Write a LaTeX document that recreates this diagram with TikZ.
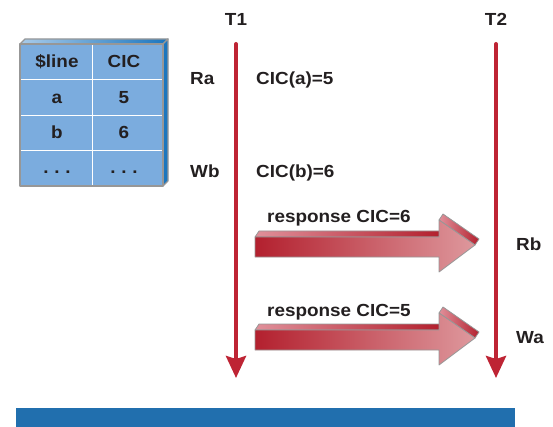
\documentclass[tikz,border=0pt]{standalone}
\usepackage{fontspec}
\setmainfont{Liberation Sans}[FakeStretch=1.08]
\usetikzlibrary{arrows.meta}
\definecolor{txt}{HTML}{231F20}
\definecolor{tl}{HTML}{BE2434}
\definecolor{darkred}{HTML}{B3202E}
\definecolor{lightred}{HTML}{DE989D}
\definecolor{topred}{HTML}{E0909A}
\definecolor{tblue}{HTML}{7BACDE}
\definecolor{sideblue}{HTML}{1C76BE}
\definecolor{topblue}{HTML}{A8CBEA}
\definecolor{barblue}{HTML}{216FAE}
\definecolor{edge}{HTML}{979797}
\begin{document}
\begin{tikzpicture}[x=1pt,y=-1pt,
  lab/.style={font=\bfseries\fontsize{17.5}{17.5}\selectfont, text=txt, inner sep=0pt, anchor=base west},
  labc/.style={lab, anchor=base},
  timeline/.style={draw=tl, line width=4pt, -{Stealth[length=22pt,width=20pt,inset=3pt]}},
  frontface/.style={left color=darkred, right color=lightred, draw=edge, line width=0.8pt, line join=round},
  topface/.style={left color=topred, right color=darkred, draw=edge, line width=0.8pt, line join=round},
  cellline/.style={draw=white, line width=1pt},
  tableedge/.style={draw=edge, line width=1.2pt, line join=round}
]
\useasboundingbox (0,0) rectangle (553,427);

% table (3D block)
\path[left color=topblue, right color=sideblue, tableedge] (20,44) -- (25,39) -- (168,39) -- (163,44) -- cycle;
\path[fill=sideblue, tableedge] (163,44) -- (168,39) -- (168,181) -- (163,186) -- cycle;
\fill[tblue] (20,44) rectangle (163,186);
\draw[cellline] (92,44) -- (92,186);
\draw[cellline] (20,80) -- (163,80);
\draw[cellline] (20,116) -- (163,116);
\draw[cellline] (20,151) -- (163,151);
\draw[tableedge] (20,44) rectangle (163,186);
\node[labc] (h1) at (57,68) {\$line};
\node[labc] (h2) at (124,68) {CIC};
\node[labc] (c1a) at (57,104) {a};
\node[labc] (c2a) at (124,104) {5};
\node[labc] (c1b) at (57,139) {b};
\node[labc] (c2b) at (124,139) {6};
\node[labc] (c1d) at (57,174) {.\,\,.\,\,.};
\node[labc] (c2d) at (124,174) {.\,\,.\,\,.};

% timelines
\node[labc] (T1) at (236,26) {T1};
\node[labc] (T2) at (496,26) {T2};
\coordinate (t1s) at (236,44);
\coordinate (t1e) at (236,378);
\coordinate (t2s) at (496,44);
\coordinate (t2e) at (496,378);
\draw[timeline] (t1s) -- (t1e);
\draw[timeline] (t2s) -- (t2e);
\fill[tl] (t1s) circle (2pt);
\fill[tl] (t2s) circle (2pt);

% events
\node[lab] (Ra) at (190,85) {Ra};
\node[lab] (CICa) at (256,85) {CIC(a)=5};
\node[lab] (Wb) at (190,178) {Wb};
\node[lab] (CICb) at (256,178) {CIC(b)=6};
\node[lab] (Rb) at (516,251) {Rb};
\node[lab] (Wa) at (516,343) {Wa};

% response arrows
\foreach \d in {0, 93} {
  \path[topface] (255,237+\d) -- (259,231+\d) -- (440,231+\d) -- (440,237+\d) -- cycle;
  \path[topface] (439,220+\d) -- (443,214+\d) -- (479,239+\d) -- (475,245+\d) -- cycle;
  \path[frontface] (255,237+\d) -- (439,237+\d) -- (439,220+\d) -- (475,245+\d) -- (439,272+\d) -- (439,257+\d) -- (255,257+\d) -- cycle;
}
\node[lab] (resp1) at (267,223) {response CIC=6};
\node[lab] (resp2) at (267,316) {response CIC=5};

% bottom bar
\fill[barblue] (16,408) rectangle (515,427);
\end{tikzpicture}
\end{document}
